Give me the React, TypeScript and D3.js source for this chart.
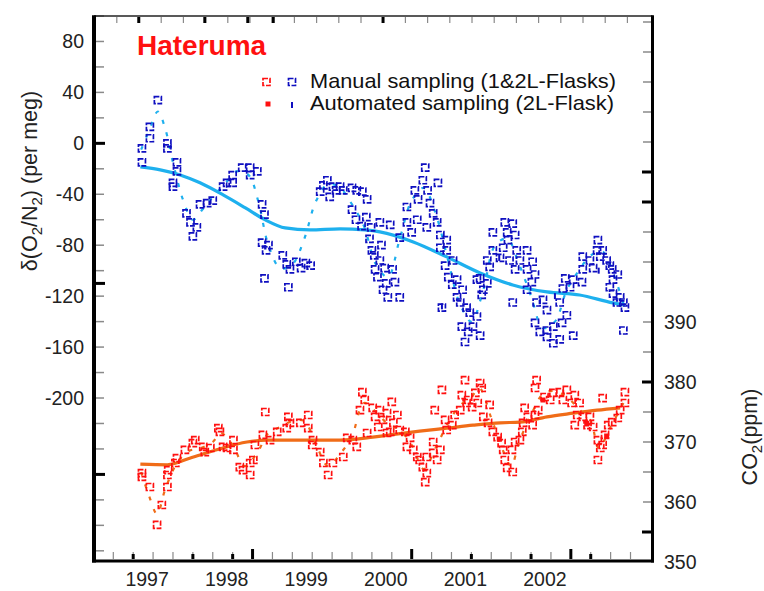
import React from 'react';
import * as d3 from 'd3';

// Hateruma O2/N2 and CO2 flask record
// [decimal year, value]

const o2Manual: [number, number][] = [
  [1996.86, -4], [1996.86, -15], [1996.96, 13], [1996.96, 4], [1997.06, 34], [1997.18, 0], [1997.18, -4],
  [1997.30, -15], [1997.30, -22], [1997.25, -31], [1997.25, -34], [1997.42, -55], [1997.47, -62],
  [1997.50, -73], [1997.55, -66], [1997.59, -48], [1997.68, -47], [1997.75, -45], [1997.88, -34],
  [1997.93, -31], [1998.0, -25], [1998.0, -31], [1998.12, -19], [1998.22, -19], [1998.22, -25],
  [1998.31, -22], [1998.37, -48], [1998.40, -56], [1998.37, -78], [1998.42, -84], [1998.45, -80],
  [1998.40, -106], [1998.63, -88], [1998.68, -95], [1998.72, -99], [1998.70, -113], [1998.80, -93],
  [1998.86, -98], [1998.92, -94], [1998.98, -96], [1999.10, -38], [1999.14, -33], [1999.19, -29],
  [1999.22, -42], [1999.26, -34], [1999.30, -37], [1999.35, -34], [1999.39, -37], [1999.50, -35],
  [1999.56, -37], [1999.63, -38], [1999.69, -44], [1999.50, -52], [1999.55, -60], [1999.62, -65],
  [1999.68, -58], [1999.74, -66], [1999.72, -75], [1999.75, -84], [1999.78, -88], [1999.79, -99],
  [1999.82, -105], [1999.87, -80], [1999.93, -110], [1999.85, -62], [1999.98, -64], [1999.85, -92],
  [1999.91, -98], [2000.01, -99], [2000.10, -121], [1999.95, -121], [1999.89, -115], [2000.04, -109],
  [2000.42, -19], [2000.39, -29], [2000.58, -31], [2000.45, -37], [2000.29, -37], [2000.33, -44],
  [2000.48, -47], [2000.19, -50], [2000.52, -55], [2000.32, -60], [2000.19, -62], [2000.44, -66],
  [2000.25, -70], [2000.10, -74], [2000.57, -62], [2000.61, -72], [2000.69, -76], [2000.61, -82],
  [2000.69, -84], [2000.67, -96], [2000.77, -92], [2000.71, -105], [2000.82, -107], [2000.76, -111],
  [2000.89, -115], [2000.82, -121], [2000.86, -125], [2000.94, -129], [2000.98, -133], [2001.07, -136],
  [2000.88, -144], [2001.02, -144], [2000.96, -148], [2001.11, -151], [2000.92, -156], [2000.63, -129],
  [2001.42, -62], [2001.52, -63], [2001.45, -70], [2001.27, -70], [2001.46, -76], [2001.55, -72],
  [2001.40, -82], [2001.27, -84], [2001.57, -84], [2001.70, -84], [2001.20, -92], [2001.36, -90],
  [2001.48, -92], [2001.61, -92], [2001.77, -93], [2001.23, -97], [2001.55, -99], [2001.70, -99],
  [2001.80, -103], [2001.11, -106], [2001.20, -110], [2001.15, -115], [2001.52, -125], [2001.82, -125],
  [2001.70, -115], [2001.76, -109], [2001.13, -119], [2001.07, -107], [2001.90, -123], [2001.95, -131],
  [2002.11, -125], [2001.80, -141], [2001.86, -148], [2001.95, -152], [2002.03, -144], [2002.14, -141],
  [2002.20, -135], [2002.11, -154], [2002.03, -157], [2001.95, -147], [2002.28, -151], [2002.18, -106],
  [2002.28, -107], [2002.24, -113], [2002.15, -114], [2002.39, -109], [2002.40, -99], [2002.49, -92],
  [2002.53, -98], [2002.40, -89], [2002.59, -76], [2002.65, -84], [2002.58, -84], [2002.62, -89],
  [2002.70, -92], [2002.74, -96], [2002.77, -99], [2002.84, -103], [2002.78, -107], [2002.74, -113],
  [2002.78, -118], [2002.87, -121], [2002.91, -125], [2002.93, -129], [2002.91, -147], [2002.83, -125],
];

const o2Auto: [number, number][] = [
  [2000.63, -128], [2001.35, -90], [2002.05, -120], [2002.60, -100],
];

const o2Trend: [number, number][] = [
  [1996.84, -18.5], [1997.09, -20.8], [1997.34, -24.8], [1997.59, -31], [1997.88, -40.5],
  [1998.16, -50.7], [1998.41, -60.1], [1998.66, -66.4], [1998.97, -68], [1999.35, -67.2],
  [1999.66, -68], [1999.85, -69.5], [2000.27, -77.4], [2000.69, -89.2], [2001.11, -101.8],
  [2001.52, -111.2], [2001.95, -116.7], [2002.36, -119.1], [2002.78, -125.3], [2002.93, -126.9],
];

const o2Fit: [number, number][] = [
  [1996.85, -5], [1996.95, 10], [1997.06, 25], [1997.15, 12], [1997.25, -15], [1997.38, -45],
  [1997.5, -60], [1997.62, -52], [1997.75, -42], [1997.9, -32], [1998.05, -22], [1998.2, -25],
  [1998.32, -45], [1998.45, -80], [1998.6, -98], [1998.75, -95], [1998.9, -75], [1999.05, -45],
  [1999.2, -32], [1999.35, -35], [1999.5, -48], [1999.65, -65], [1999.8, -95], [1999.95, -105],
  [2000.1, -75], [2000.25, -45], [2000.4, -35], [2000.55, -55], [2000.7, -90], [2000.85, -125],
  [2001.0, -140], [2001.15, -115], [2001.3, -80], [2001.45, -75], [2001.6, -95], [2001.75, -120],
  [2001.9, -145], [2002.05, -140], [2002.2, -115], [2002.35, -100], [2002.5, -88], [2002.65, -85],
  [2002.8, -105], [2002.93, -130],
];

const co2Manual: [number, number][] = [
  [1996.86, 364.8], [1996.86, 364.2], [1996.96, 362.5], [1997.05, 356.2], [1997.11, 359.5],
  [1997.18, 364.5], [1997.18, 362.5], [1997.19, 365.3], [1997.28, 366.5], [1997.30, 367.3],
  [1997.40, 368.7], [1997.50, 369.8], [1997.53, 370.3], [1997.63, 369.2], [1997.65, 368.3],
  [1997.72, 369], [1997.82, 372.3], [1997.84, 371.7], [1997.88, 369.2], [1997.93, 369],
  [1998.01, 370.3], [1998.01, 368.7], [1998.09, 365.8], [1998.13, 365.3], [1998.22, 364.5],
  [1998.26, 367], [1998.22, 366.5], [1998.28, 369.5], [1998.38, 371.2], [1998.41, 375],
  [1998.47, 370.3], [1998.56, 371.7], [1998.68, 372.3], [1998.70, 374.2], [1998.72, 373.2],
  [1998.85, 373.2], [1998.95, 374.5], [1998.95, 372.3], [1999.01, 370.3], [1999.00, 369.5],
  [1999.10, 368.3], [1999.14, 366.5], [1999.20, 364.5], [1999.26, 366.5], [1999.39, 367.5],
  [1999.44, 370.7], [1999.51, 370.3], [1999.56, 369.2], [1999.63, 378.3], [1999.66, 377],
  [1999.76, 375.7], [1999.79, 374.2], [1999.83, 372.5], [1999.89, 373.7], [1999.94, 371.5],
  [1999.69, 371.5], [1999.60, 375.3], [1999.85, 375.3], [1999.94, 374.8], [2000.00, 376.7],
  [2000.07, 374.5], [2000.02, 373.2], [2000.10, 372], [1999.98, 371.7], [2000.17, 371.7],
  [2000.23, 370.7], [2000.19, 369.2], [2000.27, 368.7], [2000.32, 367.5], [2000.35, 367],
  [2000.44, 367.5], [2000.39, 365.8], [2000.44, 364.8], [2000.42, 363.3], [2000.52, 368.2],
  [2000.52, 370], [2000.57, 367], [2000.61, 368.7], [2000.54, 375.3], [2000.63, 378.7],
  [2000.67, 373.7], [2000.69, 372], [2000.76, 372.8], [2000.79, 374.5], [2000.86, 375.3],
  [2000.88, 377.8], [2000.92, 380.3], [2000.94, 376.5], [2000.96, 377], [2001.01, 375.8],
  [2001.05, 378.2], [2001.11, 379.8], [2001.13, 379], [2001.08, 376.5], [2001.15, 374.2],
  [2001.21, 373.2], [2001.23, 376.2], [2001.27, 371.7], [2001.33, 370.8], [2001.38, 369.8],
  [2001.40, 368.7], [2001.42, 367], [2001.45, 365.7], [2001.52, 365], [2001.51, 368.7],
  [2001.55, 370], [2001.61, 370.3], [2001.64, 371.7], [2001.65, 373.2], [2001.67, 375.7],
  [2001.71, 374.2], [2001.77, 372.8], [2001.80, 374.5], [2001.84, 375.3], [2001.82, 380.3],
  [2001.80, 379], [2001.92, 377.5], [2001.99, 377], [2002.03, 378.2], [2002.11, 378.3],
  [2002.15, 377], [2002.20, 378.7], [2002.26, 376.5], [2002.30, 377.8], [2002.36, 376.5],
  [2002.33, 374.5], [2002.30, 372.8], [2002.40, 374.2], [2002.46, 372.8], [2002.49, 374.2],
  [2002.53, 372.5], [2002.59, 370.3], [2002.62, 369], [2002.59, 367], [2002.65, 369.5],
  [2002.68, 371.2], [2002.72, 372.8], [2002.77, 373.3], [2002.84, 374], [2002.87, 375.3],
  [2002.93, 378.3], [2002.93, 376.5], [2002.65, 377.3],
];

const co2Auto: [number, number][] = [
  [2001.35, 370.5], [2001.9, 377], [2002.45, 373], [2002.7, 371],
];

const co2Trend: [number, number][] = [
  [1996.84, 366.3], [1997.18, 366.2], [1997.46, 367.3], [1997.80, 368.7], [1998.18, 370],
  [1998.43, 370.3], [1998.93, 370.3], [1999.35, 370.3], [1999.76, 370.8], [1999.98, 371.2],
  [2000.35, 371.8], [2000.69, 372.3], [2001.02, 372.8], [2001.36, 373.2], [2001.61, 373.3],
  [2001.95, 374.2], [2002.28, 374.8], [2002.58, 375.3], [2002.87, 375.7],
];

const co2Fit: [number, number][] = [
  [1996.85, 365], [1996.95, 361], [1997.05, 358], [1997.15, 362], [1997.3, 366.5], [1997.45, 368.5],
  [1997.6, 369], [1997.75, 370], [1997.85, 371.5], [1998.0, 369.5], [1998.15, 366], [1998.3, 368],
  [1998.45, 371.5], [1998.6, 372.5], [1998.75, 373.5], [1998.9, 373.5], [1999.05, 369.5],
  [1999.2, 366], [1999.35, 368], [1999.5, 371], [1999.65, 376.5], [1999.8, 375], [1999.95, 373],
  [2000.1, 372], [2000.25, 369.5], [2000.4, 365.5], [2000.55, 369], [2000.7, 373], [2000.85, 376],
  [2001.0, 377.5], [2001.1, 379], [2001.25, 374], [2001.4, 368.5], [2001.5, 366], [2001.6, 370],
  [2001.75, 374.5], [2001.9, 378], [2002.05, 378.5], [2002.2, 377.5], [2002.35, 375.5],
  [2002.5, 373.5], [2002.6, 369], [2002.75, 372.5], [2002.93, 377],
];

const yearLabels = [1997, 1998, 1999, 2000, 2001, 2002];
const o2TickLabels = [80, 40, 0, -40, -80, -120, -160, -200];
const co2TickLabels = [390, 380, 370, 360, 350];

// ticks drawn heavier in the original
const o2MajorTicks = [0, -110, -260];
const co2MajorTicks = [415, 410, 380, 355];
const bottomMajorTicks = [1996.75, 1997.5, 1998.0, 2001.0, 2001.75, 2002.5];
const bottomBigTicks = [1998.25, 2000.25, 2002.25];
const topMajorTicks = [1996.82, 1997.65, 1998.19, 1998.51, 1999.89];

const FONT = "'Liberation Sans', Arial, Helvetica, sans-serif";
const BLUE = '#0f0fc0';
const RED = '#ff1010';
const LIGHTBLUE = '#1eb0ee';
const ORANGE = '#f06c18';
const GRAY = '#8a8a8a';

const W = 764, H = 591;
const L = 94, R = 652.5, T = 16, B = 561;

export default function App() {
  const x = d3.scaleLinear().domain([1996.27, 2003.27]).range([95, 652]);
  const yO2 = d3.scaleLinear().domain([-328, 100]).range([561, 16]);
  const yCO2 = d3.scaleLinear().domain([350, 441]).range([562, 16]);

  const o2Line = d3.line<[number, number]>().x(d => x(d[0])).y(d => yO2(d[1])).curve(d3.curveMonotoneX);
  const co2Line = d3.line<[number, number]>().x(d => x(d[0])).y(d => yCO2(d[1])).curve(d3.curveMonotoneX);
  const o2FitLine = d3.line<[number, number]>().x(d => x(d[0])).y(d => yO2(d[1])).curve(d3.curveCatmullRom);
  const co2FitLine = d3.line<[number, number]>().x(d => x(d[0])).y(d => yCO2(d[1])).curve(d3.curveCatmullRom);

  const leftTicks = d3.range(-320, 101, 20);
  const rightTicks = d3.range(355, 441, 5);
  const bottomTicks = d3.range(1996.5, 2003.2, 0.25);
  const topTicks = d3.range(0, 24).map(i => 1996.544 + i * 0.279);

  const manual = (pts: [number, number][], y: (v: number) => number, color: string) =>
    pts.map((d, i) => (
      <rect key={i} x={x(d[0]) - 3.5} y={y(d[1]) - 3.5} width={7} height={7}
        fill="none" stroke={color} strokeWidth={1.7} strokeDasharray="5 1.5" />
    ));

  return (
    <svg width={W} height={H} style={{ position: 'absolute', left: 0, top: 0, background: '#fff' }}>
      {/* fit curves (partly hidden under the samples) */}
      <path d={o2FitLine(o2Fit) || ''} fill="none" stroke={LIGHTBLUE} strokeWidth={2.2} strokeDasharray="4 9" />
      <path d={co2FitLine(co2Fit) || ''} fill="none" stroke={ORANGE} strokeWidth={2.2} strokeDasharray="4 9" />

      {/* trend lines */}
      <path d={o2Line(o2Trend) || ''} fill="none" stroke={LIGHTBLUE} strokeWidth={3.2} />
      <path d={co2Line(co2Trend) || ''} fill="none" stroke={ORANGE} strokeWidth={3.2} />

      {manual(o2Manual, yO2, BLUE)}
      {manual(co2Manual, yCO2, RED)}
      {o2Auto.map((d, i) => (
        <rect key={'oa' + i} x={x(d[0]) - 1} y={yO2(d[1]) - 3} width={2} height={6} fill={BLUE} />
      ))}
      {co2Auto.map((d, i) => (
        <rect key={'ca' + i} x={x(d[0]) - 2.5} y={yCO2(d[1]) - 2.5} width={5} height={5} fill={RED} />
      ))}

      {/* ticks */}
      {leftTicks.map(v => (
        <line key={'lt' + v} x1={96} x2={104} y1={yO2(v)} y2={yO2(v)} stroke={GRAY} strokeWidth={1.5} />
      ))}
      {o2MajorTicks.map(v => (
        <line key={'lm' + v} x1={96} x2={105} y1={yO2(v)} y2={yO2(v)} stroke="#000" strokeWidth={3} />
      ))}
      {rightTicks.map(v => (
        <line key={'rt' + v} x1={643} x2={651} y1={yCO2(v)} y2={yCO2(v)} stroke={GRAY} strokeWidth={1.5} />
      ))}
      {co2MajorTicks.map(v => (
        <line key={'rm' + v} x1={642} x2={651} y1={yCO2(v)} y2={yCO2(v)} stroke="#000" strokeWidth={3} />
      ))}
      {bottomTicks.map(v => (
        <line key={'bt' + v} x1={x(v)} x2={x(v)} y1={559} y2={552} stroke={GRAY} strokeWidth={1.2} />
      ))}
      {bottomMajorTicks.map(v => (
        <line key={'bm' + v} x1={x(v)} x2={x(v)} y1={559} y2={554} stroke="#000" strokeWidth={3} />
      ))}
      {bottomBigTicks.map(v => (
        <line key={'bb' + v} x1={x(v)} x2={x(v)} y1={559} y2={549} stroke="#000" strokeWidth={3} />
      ))}
      {topTicks.map(v => (
        <line key={'tt' + v} x1={x(v)} x2={x(v)} y1={17} y2={23} stroke={GRAY} strokeWidth={1.2} />
      ))}
      {topMajorTicks.map(v => (
        <line key={'tm' + v} x1={x(v)} x2={x(v)} y1={17} y2={23} stroke="#000" strokeWidth={3} />
      ))}

      {/* frame */}
      <line x1={L} x2={R} y1={T} y2={T} stroke="#222" strokeWidth={1.5} />
      <line x1={L} x2={L} y1={T - 0.7} y2={B + 1.5} stroke="#000" strokeWidth={4} />
      <line x1={L - 2} x2={R + 1.5} y1={B} y2={B} stroke="#000" strokeWidth={3} />
      <line x1={R} x2={R} y1={T - 0.7} y2={B + 1.5} stroke="#000" strokeWidth={3} />

      {/* tick labels */}
      <g fontFamily={FONT} fontSize={19.5} fill="#222">
        {o2TickLabels.map(v => (
          <text key={'ol' + v} x={84} y={yO2(v)} dy="0.36em" textAnchor="end">{v}</text>
        ))}
        {co2TickLabels.map(v => (
          <text key={'cl' + v} x={664} y={yCO2(v)} dy="0.36em" textAnchor="start">{v}</text>
        ))}
        {yearLabels.map(v => (
          <text key={'yl' + v} x={x(v) - 6} y={586} textAnchor="middle">{v}</text>
        ))}
      </g>

      {/* axis titles */}
      <text transform="translate(37,181) rotate(-90)" textAnchor="middle" fontFamily={FONT} fontSize={21.5} fill="#222">
        δ(O<tspan dy={5} fontSize={15}>2</tspan><tspan dy={-5}>/N</tspan><tspan dy={5} fontSize={15}>2</tspan><tspan dy={-5}>) (per meg)</tspan>
      </text>
      <text transform="translate(757,437) rotate(-90)" textAnchor="middle" fontFamily={FONT} fontSize={21.5} fill="#222">
        CO<tspan dy={5} fontSize={15}>2</tspan><tspan dy={-5}>(ppm)</tspan>
      </text>

      {/* title */}
      <text x={137} y={55} fontFamily={FONT} fontSize={28} fontWeight="bold" fill={RED}>Hateruma</text>

      {/* legend */}
      <rect x={263} y={78.5} width={7} height={7} fill="none" stroke={RED} strokeWidth={1.7} strokeDasharray="5 1.5" />
      <rect x={288.5} y={78.5} width={7} height={7} fill="none" stroke={BLUE} strokeWidth={1.7} strokeDasharray="5 1.5" />
      <rect x={265.5} y={101.5} width={5} height={5} fill={RED} />
      <rect x={291} y={102} width={2} height={6} fill={BLUE} />
      <g fontFamily={FONT} fontSize={21} fill="#111">
        <text x={310} y={87.5} textLength={306} lengthAdjust="spacingAndGlyphs">Manual sampling (1&amp;2L-Flasks)</text>
        <text x={310} y={110} textLength={304} lengthAdjust="spacingAndGlyphs">Automated sampling (2L-Flask)</text>
      </g>
    </svg>
  );
}
